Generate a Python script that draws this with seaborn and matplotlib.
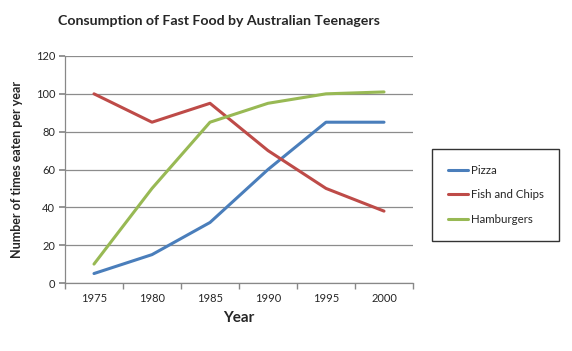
import matplotlib
matplotlib.use("Agg")
import matplotlib.pyplot as plt
import seaborn as sns
import pandas as pd

years = ["1975", "1980", "1985", "1990", "1995", "2000"]
pizza = [5, 15, 32, 60, 85, 85]
fish_chips = [100, 85, 95, 70, 50, 38]
hamburgers = [10, 50, 85, 95, 100, 101]

series = ["Pizza", "Fish and Chips", "Hamburgers"]
colors = ["#4A7EBB", "#BE4B48", "#98B954"]

rows = []
for name, vals in zip(series, [pizza, fish_chips, hamburgers]):
    for i, v in enumerate(vals):
        rows.append({"pos": i, "value": v, "series": name})
df = pd.DataFrame(rows)

sns.set_theme(style="white")
plt.rcParams["font.family"] = ["Lato", "DejaVu Sans"]

fig = plt.figure(figsize=(5.72, 3.51), dpi=100)
ax = fig.add_axes([65 / 572, 1 - 283 / 351, (413 - 65) / 572, (283 - 56) / 351])

sns.lineplot(data=df, x="pos", y="value", hue="series", palette=colors,
             hue_order=series, linewidth=2.2, ax=ax, legend=False, sort=False)

ax.set_xlim(-0.5, 5.5)
ax.set_ylim(0, 120)
ax.set_yticks(range(0, 121, 20))
ax.set_xticks(range(len(years)))
ax.set_xticklabels(years)
ax.set_xticks([i - 0.5 for i in range(len(years) + 1)], minor=True)
ax.tick_params(axis="x", which="major", length=0, labelsize=8, pad=7)
ax.tick_params(axis="x", which="minor", length=4, color="#888888", direction="out")
ax.tick_params(axis="y", length=4, color="#888888", direction="out", labelsize=8, pad=3)
ax.yaxis.set_ticks_position("left")
ax.xaxis.set_ticks_position("bottom")
ax.grid(axis="y", color="#8c8c8c", linewidth=0.9)
ax.set_axisbelow(True)
for s in ["top", "right"]:
    ax.spines[s].set_visible(False)
for s in ["left", "bottom"]:
    ax.spines[s].set_color("#888888")
    ax.spines[s].set_linewidth(0.9)

ax.set_xlabel("Year", fontsize=11, fontweight="bold", labelpad=5)
ax.set_ylabel("Number of times eaten per year", fontsize=9, fontweight="bold", labelpad=9)

fig.text(219 / 572, 1 - 21 / 351, "Consumption of Fast Food by Australian Teenagers",
         ha="center", va="center", fontsize=10.2, fontweight="bold")

handles = [plt.Line2D([], [], color=c, linewidth=2.2) for c in colors]
leg = fig.legend(handles, series, loc="upper left",
                 bbox_to_anchor=(432 / 572, 1 - 149 / 351),
                 frameon=True, fancybox=False, fontsize=8.3,
                 handlelength=1.8, handletextpad=0.2, labelspacing=1.2,
                 borderpad=1.35, borderaxespad=0)
leg.get_frame().set_edgecolor("black")
leg.get_frame().set_linewidth(1.0)

fig.savefig("out.png", dpi=100)
